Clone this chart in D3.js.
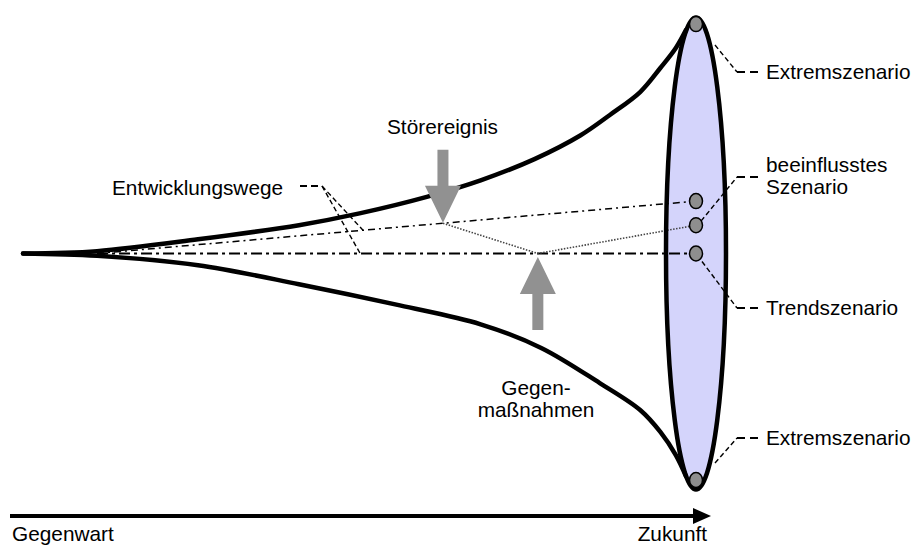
<!DOCTYPE html>
<html>
<head>
<meta charset="utf-8">
<script src="https://cdn.jsdelivr.net/npm/d3@7"></script>
<style>
  body { margin: 0; background: #fff; }
  svg text { font-family: "Liberation Sans", Arial, sans-serif; font-size: 20.8px; fill: #000; }
</style>
</head>
<body>
<svg></svg>
<script>
// time: 0 = Gegenwart, 100 = Zukunft; value: deviation from trend (-100..100)
var upperEdge = [[0, 0], [11, 1], [26, 6], [41, 12], [50, 17], [60, 24], [68, 31], [76, 40], [82.8, 50], [87.2, 58.7], [91.7, 68.4], [94.7, 78.6], [97, 87.1], [98.5, 94.7]];
var lowerEdge = [[0, 0], [11, -1], [26, -5], [41, -13], [56, -22], [68, -30], [77, -40], [85.7, -54.9], [91.7, -66.3], [94.7, -75.6], [97, -85.4], [98.5, -94.3]];
var trendPath = [[11, 0], [100, 0]];
var undisturbedPath = [[11, 0], [100, 22.2]];
var influencedPath = [[62.4, 12.8], [76.5, 0], [100, 12]];
var scenarioValues = [97.2, 22.2, 12, 0, -96];
var eventNames = ['Störereignis', 'Gegenmaßnahmen'];
var eventTimes = [62.4, 76.5];
var eventTips = [13, -1.5];
var timeLabels = ['Gegenwart', 'Zukunft'];

var width = 913, height = 545;
var svg = d3.select('svg').attr('width', width).attr('height', height);

var x = d3.scaleLinear().domain([0, 100]).range([23, 696]);
var y = d3.scaleLinear().domain([-100, 100]).range([489.5, 17.5]);

var line = d3.line().x(d => x(d[0])).y(d => y(d[1]));
var curve = d3.line().x(d => x(d[0])).y(d => y(d[1])).curve(d3.curveCatmullRom);

// horizon ellipse (fill)
var cx = x(100), cy = y(0), ry = y(-100) - y(0), rx = 30;
svg.append('ellipse')
    .attr('cx', cx).attr('cy', cy)
    .attr('rx', rx - 2).attr('ry', ry - 2)
    .attr('fill', '#d4d4fb');

// paths of development
svg.append('path').datum(trendPath)
    .attr('d', line).attr('fill', 'none')
    .attr('stroke', '#000').attr('stroke-width', 2)
    .attr('stroke-dasharray', '11,4,3,4');
svg.append('path').datum(undisturbedPath)
    .attr('d', line).attr('fill', 'none')
    .attr('stroke', '#000').attr('stroke-width', 1.5)
    .attr('stroke-dasharray', '7,4,2,4');
svg.append('path').datum(influencedPath)
    .attr('d', line).attr('fill', 'none')
    .attr('stroke', '#444').attr('stroke-width', 1.6)
    .attr('stroke-dasharray', '1.5,1.5');

// funnel
[upperEdge, lowerEdge].forEach(function (edge) {
    svg.append('path').datum(edge)
        .attr('d', curve).attr('fill', 'none')
        .attr('stroke', '#000').attr('stroke-width', 4.5)
        .attr('stroke-linecap', 'round');
});

// horizon outline
svg.append('ellipse')
    .attr('cx', cx).attr('cy', cy)
    .attr('rx', rx).attr('ry', ry)
    .attr('fill', 'none').attr('stroke', '#000').attr('stroke-width', 4.5);

// scenarios
svg.selectAll('ellipse.scen')
    .data(scenarioValues)
    .enter().append('ellipse')
    .attr('class', 'scen')
    .attr('cx', x(100)).attr('cy', d => y(d))
    .attr('rx', 6.5).attr('ry', 7.5)
    .attr('fill', '#8e8e8e').attr('stroke', '#000').attr('stroke-width', 1.5);

// grey block arrows
function blockArrow(tx, ty, dir) {
    var hl = 37, hw = 18, sw = 5.5, len = 73;
    var p = [[tx, ty], [tx + hw, ty - dir * hl], [tx + sw, ty - dir * hl], [tx + sw, ty - dir * len],
             [tx - sw, ty - dir * len], [tx - sw, ty - dir * hl], [tx - hw, ty - dir * hl]];
    return 'M' + p.join('L') + 'Z';
}
eventTimes.forEach(function (t, i) {
    svg.append('path')
        .attr('d', blockArrow(x(t), y(eventTips[i]), i === 0 ? 1 : -1))
        .attr('fill', '#919191');
});

// labels
svg.append('text').attr('x', 387).attr('y', 134).text(eventNames[0]);
svg.append('text').attr('x', 536).attr('y', 395).attr('text-anchor', 'middle')
    .selectAll('tspan').data(['Gegen-', 'maßnahmen']).enter().append('tspan')
    .attr('x', 536).attr('dy', (d, i) => i ? 22 : 0).text(d => d);
svg.append('text').attr('x', 112).attr('y', 195).text('Entwicklungswege');

function leader(pts, w, dash) {
    svg.append('path').attr('d', 'M' + pts.join('L'))
        .attr('fill', 'none').attr('stroke', '#000')
        .attr('stroke-width', w).attr('stroke-dasharray', dash);
}
// Entwicklungswege
leader([[300, 186], [322, 186]], 2, '7,4');
leader([[322, 186], [x(50.1), y(0)]], 1.4, '5,3');
leader([[322, 186], [363, y(22.2 * (x.invert(363) - 11) / 89)]], 1.4, '5,3');

var rightLabels = [
    { lines: ['Extremszenario'], y: 79, ly: 72, from: [715, 45] },
    { lines: ['beeinflusstes', 'Szenario'], y: 172, ly: 177, from: [701, y(12) - 4] },
    { lines: ['Trendszenario'], y: 315, ly: 308, from: [702, y(0) + 8] },
    { lines: ['Extremszenario'], y: 445, ly: 438, from: [715, 463] }
];
rightLabels.forEach(function (l) {
    leader([[737, l.ly], [758, l.ly]], 2, '8,5');
    leader([l.from, [737, l.ly]], 1.4, '5,3');
    var t = svg.append('text').attr('x', 766).attr('y', l.y);
    l.lines.forEach(function (s, i) {
        t.append('tspan').attr('x', 766).attr('dy', i ? 22 : 0).text(s);
    });
});

// time axis
svg.append('line').attr('x1', 10).attr('x2', 695).attr('y1', 516).attr('y2', 516)
    .attr('stroke', '#000').attr('stroke-width', 4);
svg.append('path').attr('d', 'M693,508L711,516L693,524Z').attr('fill', '#000');
svg.append('text').attr('x', 12).attr('y', 541).text(timeLabels[0]);
svg.append('text').attr('x', 707).attr('y', 541).attr('text-anchor', 'end').text(timeLabels[1]);
</script>
</body>
</html>
